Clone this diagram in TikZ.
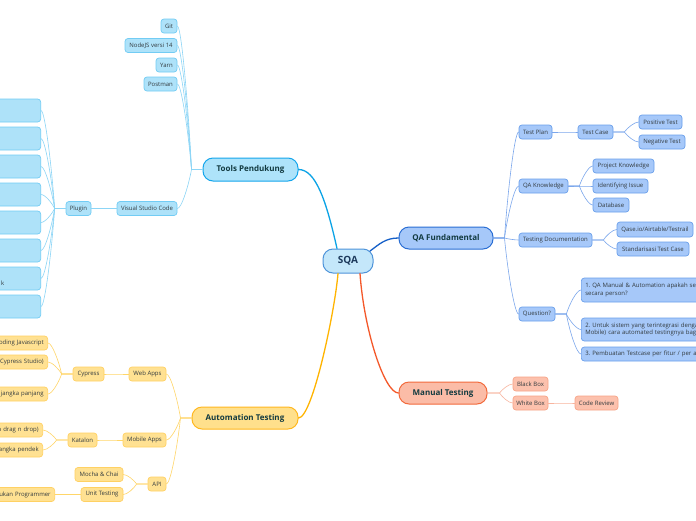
\documentclass[tikz,border=0pt]{standalone}
\usepackage{fontspec}
\setmainfont{Open Sans}
\usetikzlibrary{calc}
\frenchspacing
\definecolor{subtxt}{HTML}{333B3F}
\definecolor{toptxt}{HTML}{123A40}
\definecolor{sqatxt}{HTML}{1D3A5C}
\definecolor{sqafill}{HTML}{C4E7FA}
\definecolor{sqadraw}{HTML}{4F94DA}
% tools (cyan)
\definecolor{tTfill}{HTML}{AEE3FA}
\definecolor{tTdraw}{HTML}{14A6EC}
\definecolor{tfill}{HTML}{AEE2F9}
\definecolor{tdraw}{HTML}{72CCF4}
\definecolor{tmainc}{HTML}{0BA3E6}
\definecolor{tsubc}{HTML}{8CD5F6}
% qa (blue)
\definecolor{qTfill}{HTML}{A6C8F9}
\definecolor{qTdraw}{HTML}{2A6ED4}
\definecolor{qfill}{HTML}{A6C8F9}
\definecolor{qdraw}{HTML}{6A9FEB}
\definecolor{qmainc}{HTML}{1660C8}
\definecolor{qsubc}{HTML}{7BA7EC}
% manual (red)
\definecolor{mTfill}{HTML}{FBBCA7}
\definecolor{mTdraw}{HTML}{F26A3C}
\definecolor{mfill}{HTML}{FCC1AD}
\definecolor{mdraw}{HTML}{F8A486}
\definecolor{mmainc}{HTML}{F4582A}
\definecolor{msubc}{HTML}{F8B49E}
% automation (yellow)
\definecolor{aTfill}{HTML}{FFE08C}
\definecolor{aTdraw}{HTML}{FFB81F}
\definecolor{afill}{HTML}{FFE192}
\definecolor{adraw}{HTML}{FFD163}
\definecolor{amainc}{HTML}{FFB400}
\definecolor{asubc}{HTML}{FFD669}
\newcommand\mysubfont{\fontsize{6}{7.6}\selectfont\frenchspacing}
\newcommand\mytopfont{\fontsize{8}{10}\selectfont\bfseries}
\begin{document}
\begin{tikzpicture}[x=1pt,y=-1pt, line cap=round, line join=round,
  sub/.style={draw, rounded corners=3pt, line width=0.7pt, inner xsep=2pt, inner ysep=0pt, minimum height=14pt, font=\mysubfont, text=subtxt},
  tsub/.style={sub, fill=tfill, draw=tdraw},
  qsub/.style={sub, fill=qfill, draw=qdraw},
  msub/.style={sub, fill=mfill, draw=mdraw},
  asub/.style={sub, fill=afill, draw=adraw},
  topic/.style={draw, rounded corners=10pt, line width=1pt, inner sep=0pt, minimum height=22pt, font=\mytopfont, text=toptxt},
  cutl/.style={anchor=east, align=right, inner xsep=4pt},
  con/.style={to path={let \p1=(\tikztostart), \p2=(\tikztotarget), \p3=(\x1+#1,\y1) in (\p1) -- (\p3) .. controls ({\x3+0.2*(\x2-\x3)},{\y3+0.4*(\y2-\y3)}) and ({\x2-0.3*(\x2-\x3)},\y2) .. (\p2)}},
  rc/.style={con=11pt},
  lc/.style={con=-11pt},
  tline/.style={draw=tsubc, line width=0.6pt},
  qline/.style={draw=qsubc, line width=0.6pt},
  mline/.style={draw=msubc, line width=0.6pt},
  aline/.style={draw=asubc, line width=0.6pt},
  mainline/.style={line width=1.3pt}
]
\useasboundingbox (0,0) rectangle (696,520);
\fill[white] (0,0) rectangle (696,520);
\clip (0,0) rectangle (696,520);

% ---------- central ----------
\node[draw=sqadraw, fill=sqafill, rounded corners=10pt, line width=1pt, minimum width=50pt, minimum height=24pt, inner sep=0pt, font=\fontsize{10}{12}\selectfont\bfseries, text=sqatxt] (sqa) at (348,261) {SQA};

% ---------- topics ----------
\node[topic, fill=tTfill, draw=tTdraw, minimum width=95pt, minimum height=23pt] (tools) at (250.5,169.5) {Tools Pendukung};
\node[topic, fill=qTfill, draw=qTdraw, minimum width=94pt] (qaf) at (446,238) {QA Fundamental};
\node[topic, fill=aTfill, draw=aTdraw, minimum width=106pt] (auto) at (245,418) {Automation Testing};
\node[topic, fill=mTfill, draw=mTdraw, minimum width=88pt] (manual) at (443,393) {Manual Testing};

% ---------- tools subtree ----------
\node[tsub, minimum width=16pt] (git) at (169,26) {Git};
\node[tsub, minimum width=52pt] (nodejs) at (151,45.5) {NodeJS versi 14};
\node[tsub, minimum width=21pt] (yarn) at (166.5,65) {Yarn};
\node[tsub, minimum width=33pt] (postman) at (160.5,84) {Postman};
\node[tsub, minimum width=60pt] (vsc) at (147,208.5) {Visual Studio Code};
\node[tsub, minimum width=25pt] (plugin) at (78.5,208.5) {Plugin};
\foreach \yy [count=\i] in {110.5,138.5,166.5,194.5,222.5,250.5,278.5,306.5}
  \node[tsub, anchor=east, minimum width=101pt, minimum height=23pt] (pl\i) at (41,\yy) {};
\node[font=\mysubfont, text=subtxt, anchor=base east, inner sep=0pt] (plk) at (4.5,285) {k};

% ---------- QA fundamental subtree ----------
\node[qsub, minimum width=33pt] (tplan) at (535.5,132) {Test Plan};
\node[qsub, minimum width=35pt] (tcase) at (595.5,132) {Test Case};
\node[qsub, minimum width=43pt] (pos) at (660.5,122) {Positive Test};
\node[qsub, minimum width=46pt] (neg) at (662,142) {Negative Test};
\node[qsub, minimum width=49pt] (qak) at (543.5,186) {QA Knowledge};
\node[qsub, minimum width=61pt] (pk) at (623.5,166) {Project Knowledge};
\node[qsub, minimum width=55pt] (ii) at (620.5,186) {Identifying Issue};
\node[qsub, minimum width=36pt] (db) at (611,205) {Database};
\node[qsub, minimum width=73pt] (tdoc) at (555.5,240) {Testing Documentation};
\node[qsub, minimum width=76pt, minimum height=15pt] (qase) at (655,229.5) {Qase.io/Airtable/Testrail};
\node[qsub, minimum width=72pt] (std) at (653,249) {Standarisasi Test Case};
\node[qsub, minimum width=36pt] (quest) at (537,314) {Question?};
\node[qsub, anchor=west, minimum height=24pt, text width=160pt, align=left, inner xsep=4pt] (q1) at (581,290) {1. QA Manual \& Automation apakah seb\\secara person?};
\node[qsub, anchor=west, minimum height=23pt, text width=160pt, align=left, inner xsep=4pt] (q2) at (581,329.5) {2. Untuk sistem yang terintegrasi denga\\Mobile) cara automated testingnya baga};
\node[qsub, anchor=west, minimum height=14pt, text width=160pt, align=left, inner xsep=4pt] (q3) at (581,354) {3. Pembuatan Testcase per fitur / per alu};

% ---------- manual subtree ----------
\node[msub, minimum width=35pt] (bb) at (530.5,384) {Black Box};
\node[msub, minimum width=35pt] (wb) at (530.5,403) {White Box};
\node[msub, minimum width=43pt] (cr) at (596.5,403) {Code Review};

% ---------- automation subtree ----------
\node[asub, minimum width=37pt] (web) at (147.5,374) {Web Apps};
\node[asub, minimum width=31pt] (cyp) at (88.5,374) {Cypress};
\node[asub, cutl, text width=72pt] (cy1) at (48,343) {oding Javascript};
\node[asub, cutl, text width=72pt] (cy2) at (48,362) {(Cypress Studio)};
\node[asub, cutl, text width=72pt] (cy3) at (48,394) {jangka panjang};
\node[asub, minimum width=43pt] (mob) at (144.5,440) {Mobile Apps};
\node[asub, minimum width=29pt] (kat) at (82.5,440) {Katalon};
\node[asub, cutl, text width=66pt] (ka1) at (43,430) {a drag n drop)};
\node[asub, cutl, text width=66pt] (ka2) at (43,450) {angka pendek};
\node[asub, minimum width=18pt] (api) at (157,484) {API};
\node[asub, minimum width=48pt] (mocha) at (99,474.5) {Mocha \& Chai};
\node[asub, minimum width=42pt] (unit) at (102,494.5) {Unit Testing};
\node[asub, cutl, text width=72pt] (un1) at (55,494.5) {ukan Programmer};

% ---------- main branches ----------
\draw[mainline, draw=tmainc] ($(sqa.north)+(-11,0)$) .. controls ($(sqa.north)+(-22,-49)$) and ($(tools.east)+(17,0)$) .. (tools.east);
\draw[mainline, draw=qmainc] ($(sqa.north east)+(-3.5,2.5)$) .. controls ($(qaf.west)+(-19,6)$) and ($(qaf.west)+(-13,0)$) .. (qaf.west);
\draw[mainline, draw=amainc] ($(sqa.south)+(-10,0)$) .. controls ($(sqa.south)+(-13,37)$) and ($(auto.east)+(14,0)$) .. (auto.east);
\draw[mainline, draw=mmainc] ($(sqa.south)+(12,0)$) .. controls ($(sqa.south)+(16,57)$) and ($(manual.west)+(-14,0)$) .. (manual.west);

% ---------- tools connectors ----------
\foreach \nm in {git,nodejs,yarn,postman,vsc}
  \draw[tline] (tools.west) to[lc] (\nm.east);
\draw[tline] (vsc.west) to[lc] (plugin.east);
\foreach \i in {1,...,8}
  \draw[tline] (plugin.west) to[lc] (pl\i.east);

% ---------- QA connectors ----------
\foreach \nm in {tplan,qak,tdoc,quest}
  \draw[qline] (qaf.east) to[rc] (\nm.west);
\draw[qline] (tplan.east) to[rc] (tcase.west);
\foreach \nm in {pos,neg}
  \draw[qline] (tcase.east) to[rc] (\nm.west);
\foreach \nm in {pk,ii,db}
  \draw[qline] (qak.east) to[rc] (\nm.west);
\foreach \nm in {qase,std}
  \draw[qline] (tdoc.east) to[rc] (\nm.west);
\foreach \nm in {q1,q2,q3}
  \draw[qline] (quest.east) to[rc] (\nm.west);

% ---------- manual connectors ----------
\foreach \nm in {bb,wb}
  \draw[mline] (manual.east) to[con=12pt] (\nm.west);
\draw[mline] (wb.east) to[rc] (cr.west);

% ---------- automation connectors ----------
\foreach \nm in {web,mob,api}
  \draw[aline] (auto.west) to[lc] (\nm.east);
\draw[aline] (web.west) to[lc] (cyp.east);
\foreach \nm in {cy1,cy2,cy3}
  \draw[aline] (cyp.west) to[lc] (\nm.east);
\draw[aline] (mob.west) to[lc] (kat.east);
\foreach \nm in {ka1,ka2}
  \draw[aline] (kat.west) to[lc] (\nm.east);
\foreach \nm in {mocha,unit}
  \draw[aline] (api.west) to[lc] (\nm.east);
\draw[aline] (unit.west) to[lc] (un1.east);
\end{tikzpicture}
\end{document}
